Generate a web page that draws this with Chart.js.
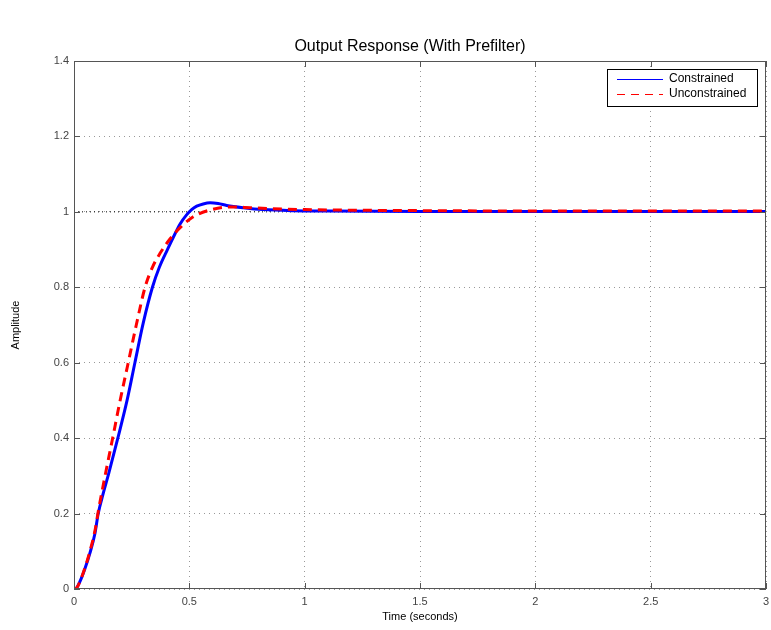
<!DOCTYPE html>
<html lang="en">
<head>
    <meta charset="UTF-8">
    <title>Output Response (With Prefilter)</title>
    <script src="https://cdn.jsdelivr.net/npm/chart.js"></script>
    <style>
        body { margin: 0; background: #fff; }
        canvas { display: block; }
    </style>
</head>
<body>
<canvas id="myChart" width="771" height="630"></canvas>
<script>
    // time (s) / amplitude
    const constrainedT = [0, 0.01, 0.026, 0.048, 0.069, 0.091, 0.105, 0.127, 0.15, 0.19, 0.23, 0.264, 0.30, 0.34, 0.37, 0.405, 0.438, 0.46, 0.488, 0.51, 0.532, 0.56, 0.59, 0.625, 0.662, 0.734, 0.82, 0.95, 1.1, 1.5, 2.0, 2.5, 3.0];
    const constrainedY = [0, 0.002, 0.02, 0.055, 0.095, 0.148, 0.20, 0.254, 0.305, 0.40, 0.50, 0.60, 0.705, 0.80, 0.853, 0.90, 0.942, 0.968, 0.992, 1.006, 1.015, 1.021, 1.024, 1.022, 1.017, 1.011, 1.006, 1.003, 1.002, 1.001, 1.001, 1.001, 1.001];

    const unconstrainedT = [0, 0.01, 0.026, 0.048, 0.069, 0.091, 0.105, 0.134, 0.166, 0.20, 0.233, 0.27, 0.308, 0.34, 0.373, 0.416, 0.46, 0.517, 0.59, 0.676, 0.763, 0.835, 1.0, 1.3, 1.6, 2.0, 2.5, 3.0];
    const unconstrainedY = [0, 0.002, 0.02, 0.057, 0.10, 0.155, 0.205, 0.298, 0.395, 0.50, 0.594, 0.70, 0.80, 0.853, 0.89, 0.928, 0.958, 0.987, 1.005, 1.013, 1.011, 1.009, 1.006, 1.004, 1.003, 1.002, 1.002, 1.002];

    const steadyState = 1;
    const legendLabels = ['Constrained', 'Unconstrained'];

    const toPoints = (ts, ys) => ts.map((t, i) => ({ x: t, y: ys[i] }));
    const fmt = v => String(+Number(v).toFixed(2));

    const fontFamily = '"Liberation Sans", Arial, sans-serif';
    const axisColor = '#555';

    // frame, inward ticks, titles and boxed legend like the MATLAB figure
    const matlabLook = {
        id: 'matlabLook',
        afterDraw(chart) {
            const ctx = chart.ctx;
            const a = chart.chartArea;
            const xs = chart.scales.x, ys = chart.scales.y;
            ctx.save();
            ctx.strokeStyle = axisColor;
            ctx.lineWidth = 1;
            ctx.strokeRect(a.left + 0.5, a.top + 0.5, a.right - a.left - 1, a.bottom - a.top - 1);
            ctx.beginPath();
            xs.ticks.forEach(t => {
                const px = Math.round(xs.getPixelForValue(t.value)) + 0.5;
                ctx.moveTo(px, a.bottom); ctx.lineTo(px, a.bottom - 6);
                ctx.moveTo(px, a.top); ctx.lineTo(px, a.top + 6);
            });
            ys.ticks.forEach(t => {
                const py = Math.round(ys.getPixelForValue(t.value)) + 0.5;
                ctx.moveTo(a.left, py); ctx.lineTo(a.left + 6, py);
                ctx.moveTo(a.right, py); ctx.lineTo(a.right - 6, py);
            });
            ctx.stroke();

            // titles
            ctx.fillStyle = '#000';
            ctx.textAlign = 'center';
            ctx.textBaseline = 'middle';
            ctx.font = '16px ' + fontFamily;
            ctx.fillText('Output Response (With Prefilter)', 410, 47);
            ctx.font = '11px ' + fontFamily;
            ctx.fillText('Time (seconds)', 420, 617);
            ctx.save();
            ctx.translate(16, 325);
            ctx.rotate(-Math.PI / 2);
            ctx.fillText('Amplitude', 0, 0);
            ctx.restore();

            // legend
            const lx = 607, ly = 69, lw = 150, lh = 37;
            ctx.fillStyle = '#fff';
            ctx.fillRect(lx, ly, lw, lh);
            ctx.strokeStyle = '#000';
            ctx.strokeRect(lx + 0.5, ly + 0.5, lw, lh);
            ctx.lineWidth = 1;
            ctx.strokeStyle = '#0000ff';
            ctx.beginPath(); ctx.moveTo(617, 79.5); ctx.lineTo(663, 79.5); ctx.stroke();
            ctx.strokeStyle = '#ff0000';
            ctx.setLineDash([8, 6]);
            ctx.beginPath(); ctx.moveTo(617, 94.5); ctx.lineTo(663, 94.5); ctx.stroke();
            ctx.setLineDash([]);
            ctx.fillStyle = '#000';
            ctx.textAlign = 'left';
            ctx.font = '12px ' + fontFamily;
            ctx.fillText(legendLabels[0], 669, 79);
            ctx.fillText(legendLabels[1], 669, 94);
            ctx.restore();
        }
    };

    const ctx = document.getElementById('myChart').getContext('2d');
    const myChart = new Chart(ctx, {
        type: 'line',
        data: {
            datasets: [
                {
                    label: legendLabels[0],
                    data: toPoints(constrainedT, constrainedY),
                    borderColor: '#0000ff',
                    borderWidth: 3,
                    pointRadius: 0,
                    cubicInterpolationMode: 'monotone',
                    order: 2
                },
                {
                    label: legendLabels[1],
                    data: toPoints(unconstrainedT, unconstrainedY),
                    borderColor: '#ff0000',
                    borderWidth: 3,
                    borderDash: [9, 6],
                    pointRadius: 0,
                    cubicInterpolationMode: 'monotone',
                    order: 1
                },
                {
                    label: 'steady state',
                    data: [{ x: 0, y: steadyState }, { x: 3, y: steadyState }],
                    borderColor: '#000',
                    borderWidth: 1,
                    borderDash: [1, 3],
                    pointRadius: 0,
                    order: 3
                }
            ]
        },
        options: {
            responsive: false,
            animation: false,
            maintainAspectRatio: false,
            layout: { padding: { top: 61, right: 5, left: 0, bottom: 0 } },
            plugins: { legend: { display: false }, tooltip: { enabled: false } },
            scales: {
                x: {
                    type: 'linear',
                    min: 0,
                    max: 3,
                    ticks: { stepSize: 0.5, autoSkip: false, callback: fmt, color: '#444', font: { family: fontFamily, size: 11 }, padding: 6, maxRotation: 0 },
                    grid: { color: '#999', drawTicks: false, lineWidth: 1 },
                    border: { display: false, dash: [1, 4] },
                    afterFit(scale) { scale.height = 41; scale.paddingLeft = 0; scale.paddingRight = 0; }
                },
                y: {
                    min: 0,
                    max: 1.4,
                    ticks: { stepSize: 0.2, autoSkip: false, callback: fmt, color: '#444', font: { family: fontFamily, size: 11 }, padding: 5 },
                    grid: { color: '#999', drawTicks: false, lineWidth: 1 },
                    border: { display: false, dash: [1, 4] },
                    afterFit(scale) { scale.width = 74; }
                }
            }
        },
        plugins: [matlabLook]
    });
</script>
</body>
</html>
